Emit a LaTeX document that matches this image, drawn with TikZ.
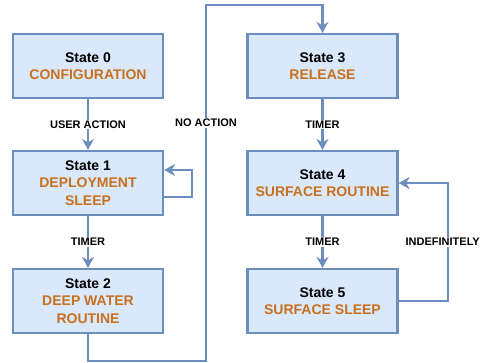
\documentclass[tikz,border=0pt]{standalone}
\usepackage{fontspec}
\setmainfont{Liberation Sans}
\usetikzlibrary{arrows.meta}

\begin{document}
\begin{tikzpicture}[x=1pt,y=-1pt,
  statebox/.style={draw=lineblue,fill=boxblue,line width=2.2pt,minimum width=150pt,minimum height=64pt,
    align=center,font=\fontsize{14}{17.5}\selectfont\bfseries},
  flow/.style={draw=lineblue,line width=2.4pt,-{Stealth[length=11pt,width=12pt]}},
  lbl/.style={fill=white,inner sep=1pt,font=\fontsize{11}{12}\selectfont\bfseries}]
\definecolor{boxblue}{HTML}{DAE8FC}
\definecolor{lineblue}{HTML}{6C8EBF}
\definecolor{rust}{HTML}{C8701E}
\useasboundingbox (0,0) rectangle (482,363);
% left column
\node [statebox] (s0) at (88,66) {State 0\\\textcolor{rust}{CONFIGURATION}};
\node [statebox] (s1) at (88,183) {State 1\\\textcolor{rust}{DEPLOYMENT}\\\textcolor{rust}{SLEEP}};
\node [statebox] (s2) at (88,301) {State 2\\\textcolor{rust}{DEEP WATER}\\\textcolor{rust}{ROUTINE}};
% right column
\node [statebox] (s3) at (322.5,66) {State 3\\\textcolor{rust}{RELEASE}};
\node [statebox] (s4) at (322.5,183) {State 4\\\textcolor{rust}{SURFACE ROUTINE}};
\node [statebox] (s5) at (322.5,301) {State 5\\\textcolor{rust}{SURFACE SLEEP}};
% transitions
\draw [flow] (s0) -- node[lbl] (ua) {USER ACTION} (s1);
\draw [flow] ([yshift=-14pt]s1.east) -- ++(28,0) |- ([yshift=13pt]s1.east);
\draw [flow] (s1) -- node[lbl] (t1) {TIMER} (s2);
\draw [flow] (s2.south) -- (88,361) -| (206,5) -| (s3.north);
\node [lbl] (na) at (206,123) {NO ACTION};
\draw [flow] (s3) -- node[lbl] (t3) {TIMER} (s4);
\draw [flow] (s4) -- node[lbl] (t4) {TIMER} (s5);
\draw [flow] (s5.east) -| (448,242) |- (s4.east);
\node [lbl,anchor=east] (ind) at (481,242) {INDEFINITELY};
\end{tikzpicture}
\end{document}
